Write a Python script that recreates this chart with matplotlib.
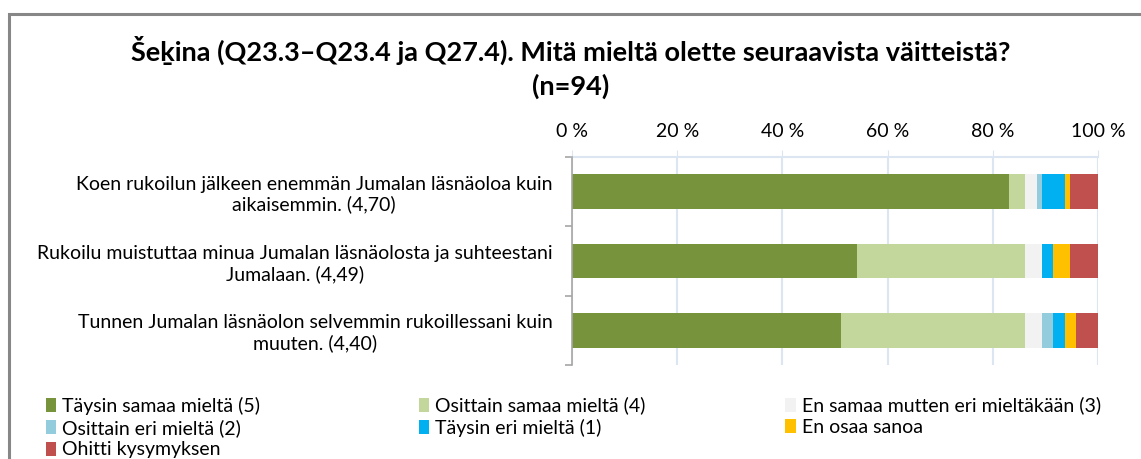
import numpy as np
import matplotlib.pyplot as plt
from matplotlib.patches import Patch, Rectangle

plt.rcParams['font.family'] = ['Lato', 'DejaVu Sans']

categories = [
    "Koen rukoilun jälkeen enemmän Jumalan läsnäoloa kuin\naikaisemmin. (4,70)",
    "Rukoilu muistuttaa minua Jumalan läsnäolosta ja suhteestani\nJumalaan. (4,49)",
    "Tunnen Jumalan läsnäolon selvemmin rukoillessani kuin\nmuuten. (4,40)",
]
series_names = [
    "Täysin samaa mieltä (5)",
    "Osittain samaa mieltä (4)",
    "En samaa mutten eri mieltäkään (3)",
    "Osittain eri mieltä (2)",
    "Täysin eri mieltä (1)",
    "En osaa sanoa",
    "Ohitti kysymyksen",
]
# counts per answer (n=94)
taysin_samaa = [78, 51, 48]
osittain_samaa = [3, 30, 33]
neutraali = [2, 3, 3]
osittain_eri = [1, 0, 2]
taysin_eri = [4, 2, 2]
en_osaa = [1, 3, 2]
ohitti = [5, 5, 4]
n = 94
colors = ["#77933C", "#C3D69B", "#F2F2F2", "#93CDDD", "#00B0F0", "#FFC000", "#C0504D"]
xticks = [0, 20, 40, 60, 80, 100]
xticklabels = ["0 %", "20 %", "40 %", "60 %", "80 %", "100 %"]

series = [taysin_samaa, osittain_samaa, neutraali, osittain_eri, taysin_eri, en_osaa, ohitti]

fig = plt.figure(figsize=(11.41, 4.59), dpi=100)
fig.patches.append(Rectangle((0.0075, -0.05), 0.995, 1.02, transform=fig.transFigure,
                             fill=False, edgecolor="#878787", linewidth=2.2))

ax = fig.add_axes([0.5013, 0.2048, 0.4611, 0.4532])
y = np.arange(len(categories))
left = np.zeros(len(categories))
for vals, name, c in zip(series, series_names, colors):
    pct = np.array(vals) / n * 100
    ax.barh(y, pct, left=left, height=0.5, color=c, label=name, zorder=3)
    left += pct

ax.set_xlim(0, 100)
ax.set_ylim(2.5, -0.5)
ax.xaxis.tick_top()
ax.set_xticks(xticks)
ax.set_xticklabels(xticklabels, fontsize=14)
ax.tick_params(axis='x', length=5, color="#DCE6F2", pad=7)
ax.grid(axis='x', color="#DCE6F2", linewidth=1.5, zorder=0)

ax.set_yticks(y)
ax.set_yticklabels(categories, fontsize=14)
for lbl in ax.get_yticklabels():
    lbl.set_multialignment('center')
ax.tick_params(axis='y', length=0, pad=14)
ax.set_yticks([-0.5, 0.5, 1.5, 2.5], minor=True)
ax.tick_params(axis='y', which='minor', length=5, color="#A6A6A6", width=1.2)

for s in ['right', 'bottom']:
    ax.spines[s].set_visible(False)
ax.spines['top'].set_color("#DCE6F2")
ax.spines['top'].set_linewidth(1.5)
ax.spines['left'].set_color("#A6A6A6")
ax.spines['left'].set_linewidth(1.2)
ax.spines['left'].set_zorder(4)

fig.text(0.5, 0.89, "Šeḵina (Q23.3–Q23.4 ja Q27.4). Mitä mieltä olette seuraavista väitteistä?",
         ha='center', va='center', fontsize=19.5, fontweight='bold')
fig.text(0.5, 0.813, "(n=94)", ha='center', va='center', fontsize=19.5, fontweight='bold')

handles = [Patch(facecolor=c, edgecolor='none') for c in colors]
groups = [[0, 3, 6], [1, 4], [2, 5]]
xpos = [0.04, 0.367, 0.688]
for g, xp in zip(groups, xpos):
    leg = fig.legend([handles[i] for i in g], [series_names[i] for i in g],
                     loc='upper left', bbox_to_anchor=(xp, 0.136),
                     frameon=False, fontsize=14, handlelength=0.55, handleheight=0.75,
                     handletextpad=0.3, labelspacing=0.23, borderaxespad=0, borderpad=0)

fig.savefig("out.png", dpi=100)
